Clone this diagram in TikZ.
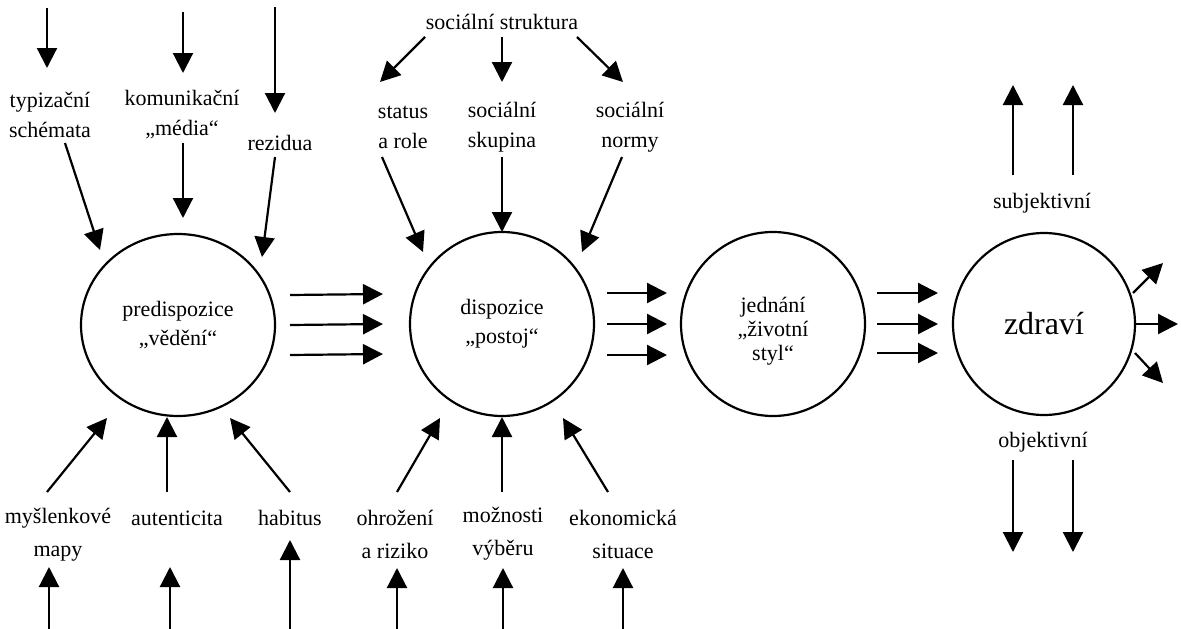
\documentclass[tikz,border=0pt]{standalone}
\usepackage{fontspec}
\setmainfont{Liberation Serif}
\usetikzlibrary{arrows.meta,shapes.geometric}
\begin{document}
\begin{tikzpicture}[x=1pt,y=-1pt,
  arr/.style={-{Triangle[length=20pt,width=20pt]}, line width=2.2pt},
  ring/.style={draw, circle, line width=2.2pt, minimum size=184pt, inner sep=0pt,
    align=center, font=\fontsize{22}{29}\selectfont},
  lbl/.style={inner sep=0pt, align=center, font=\fontsize{22}{30}\selectfont},
  lblb/.style={inner sep=0pt, align=center, font=\fontsize{22}{33}\selectfont}]
\useasboundingbox (0,0) rectangle (1181,629);

% the four stages
\node[ring, ellipse, minimum width=194pt, minimum height=182pt] (C1) at (178,325) {predispozice\\„vědění“};
\node[ring] (C2) at (502,324) {dispozice\\„postoj“};
\node[ring] (C3) at (773,324) {};
\node[lbl, font=\fontsize{22}{24}\selectfont] (C3t) at (773,331) {jednání\\„životní\\styl“};
\node[ring, minimum size=182pt, font=\fontsize{32}{36}\selectfont] (C4) at (1044,324) {zdraví};

% flows between the stages
\foreach \d in {-30,0,30}
  \draw[arr] ([shift={(112,\d)}]C1.center) -- ([shift={(-119,\d)}]C2.center);
\foreach \d in {-31,0,31}
  \draw[arr] ([shift={(105,\d)}]C2.center) -- ([shift={(-106,\d)}]C3.center);
\foreach \d in {-31,0,29}
  \draw[arr] ([shift={(104,\d)}]C3.center) -- ([shift={(-106,\d)}]C4.center);

% --- predispozice: upper inputs
\node[lbl] (typ) at (50,115) {typizační\\schémata};
\node[lbl] (kom) at (182,115) {komunikační\\„média“};
\node[lbl] (rez) at (280,143) {rezidua};
\coordinate (typin) at (47,8);
\coordinate (komin) at (183,12);
\coordinate (rezin) at (275,7);
\draw[arr] (typin) -- ([shift={(-3,-47)}]typ.center);
\draw[arr] (komin) -- ([shift={(1,-42)}]kom.center);
\draw[arr] (rezin) -- ([shift={(-5,-30)}]rez.center);
\draw[arr] ([shift={(15,28)}]typ.center) -- ([shift={(-78,-75)}]C1.center);
\draw[arr] ([shift={(1,28)}]kom.center) -- ([shift={(5,-107)}]C1.center);
\draw[arr] ([shift={(-5,14)}]rez.center) -- ([shift={(84,-68)}]C1.center);

% --- predispozice: lower inputs
\node[lblb] (mys) at (58,535) {myšlenkové\\mapy};
\node[lbl] (aut) at (177,518) {autenticita};
\node[lbl] (hab) at (290,518) {habitus};
\coordinate (mysin) at (49,629);
\coordinate (autin) at (170,629);
\coordinate (habin) at (290,629);
\draw[arr] (mysin) -- ([shift={(-9,32)}]mys.center);
\draw[arr] (autin) -- ([shift={(-7,49)}]aut.center);
\draw[arr] (habin) -- ([shift={(0,22)}]hab.center);
\draw[arr] ([shift={(-11,-43)}]mys.center) -- ([shift={(-71,93)}]C1.center);
\draw[arr] ([shift={(-10,-26)}]aut.center) -- ([shift={(-11,92)}]C1.center);
\draw[arr] ([shift={(0,-26)}]hab.center) -- ([shift={(52,93)}]C1.center);

% --- dispozice: upper inputs
\node[lbl] (str) at (502,22) {sociální struktura};
\node[lbl] (sta) at (403,127) {status\\a role};
\node[lbl] (sku) at (502,127) {sociální\\skupina};
\node[lbl] (nor) at (630,127) {sociální\\normy};
\draw[arr] ([shift={(-77,15)}]str.center) -- ([shift={(-23,-45)}]sta.center);
\draw[arr] ([shift={(0,15)}]str.center) -- ([shift={(0,-45)}]sku.center);
\draw[arr] ([shift={(75,15)}]str.center) -- ([shift={(-7,-45)}]nor.center);
\draw[arr] ([shift={(-21,30)}]sta.center) -- ([shift={(-79,-72)}]C2.center);
\draw[arr] ([shift={(0,30)}]sku.center) -- ([shift={(0,-92)}]C2.center);
\draw[arr] ([shift={(-8,30)}]nor.center) -- ([shift={(80,-72)}]C2.center);

% --- dispozice: lower inputs
\node[lblb] (ohr) at (395,534) {ohrožení\\a riziko};
\node[lblb] (moz) at (503,534) {možnosti\\výběru};
\node[lblb] (eko) at (623,534) {ekonomická\\situace};
\coordinate (ohrin) at (397,629);
\coordinate (mozin) at (503,629);
\coordinate (ekoin) at (623,629);
\draw[arr] (ohrin) -- ([shift={(2,34)}]ohr.center);
\draw[arr] (mozin) -- ([shift={(0,34)}]moz.center);
\draw[arr] (ekoin) -- ([shift={(0,34)}]eko.center);
\draw[arr] ([shift={(2,-42)}]ohr.center) -- ([shift={(-62,94)}]C2.center);
\draw[arr] ([shift={(-1,-42)}]moz.center) -- ([shift={(0,93)}]C2.center);
\draw[arr] ([shift={(-15,-42)}]eko.center) -- ([shift={(61,94)}]C2.center);

% --- zdraví: outputs
\node[lbl] (sub) at (1042,203) {subjektivní};
\node[lbl] (obj) at (1043,442) {objektivní};
\coordinate (subA) at (1013,85);
\coordinate (subB) at (1073,85);
\coordinate (objA) at (1013,552);
\coordinate (objB) at (1073,552);
\draw[arr] ([shift={(-29,-28)}]sub.center) -- (subA);
\draw[arr] ([shift={(31,-28)}]sub.center) -- (subB);
\draw[arr] ([shift={(-30,18)}]obj.center) -- (objA);
\draw[arr] ([shift={(30,18)}]obj.center) -- (objB);
\coordinate (outA) at (1163,263);
\coordinate (outB) at (1178,324);
\coordinate (outC) at (1163,383);
\draw[arr] ([shift={(89,-31)}]C4.center) -- (outA);
\draw[arr] ([shift={(90,0)}]C4.center) -- (outB);
\draw[arr] ([shift={(91,29)}]C4.center) -- (outC);
\end{tikzpicture}
\end{document}
